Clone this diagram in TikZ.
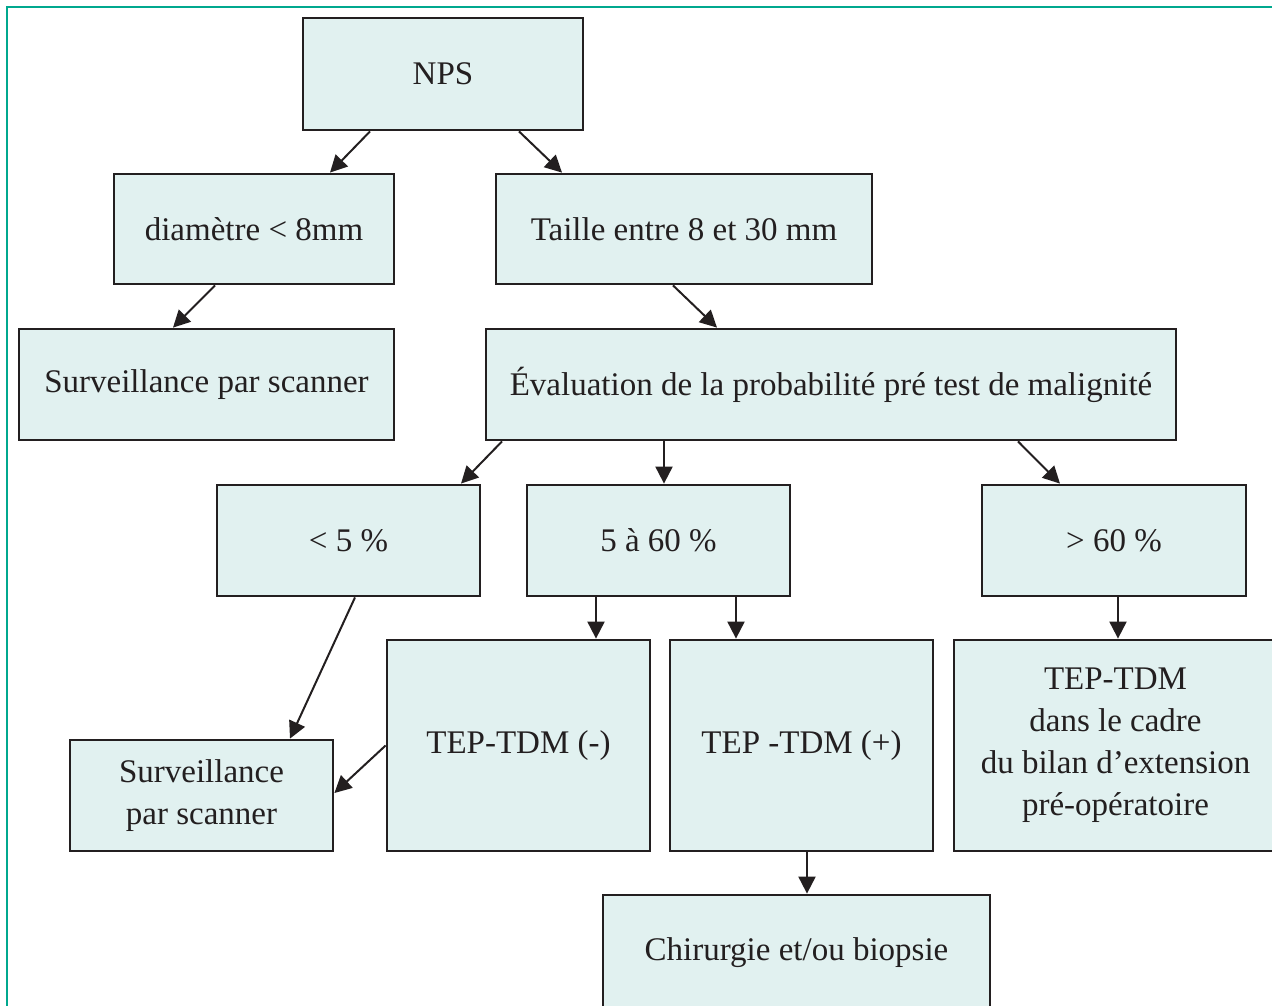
\documentclass[tikz,border=0pt]{standalone}
\usepackage{fontspec}
\setmainfont{Liberation Serif}
\usetikzlibrary{arrows.meta}
\definecolor{frame}{HTML}{00A88E}
\definecolor{boxfill}{HTML}{E1F1F0}
\definecolor{ink}{HTML}{231F20}
\tikzset{
  box/.style={draw=ink, fill=boxfill, line width=2.8pt, text=ink, align=center,
    inner sep=0pt, font=\fontsize{33}{42}\selectfont},
  conn/.style={draw=ink, line width=2pt, -{Triangle[length=17pt,width=17pt]}}
}
\begin{document}
\begin{tikzpicture}[x=1pt,y=-1pt]
\useasboundingbox (0,0) rectangle (1272,1005);
\clip (0,0) rectangle (1272,1005);
\draw[frame, line width=2.8pt] (7,1010) -- (7,7) -- (1280,7);
\node[box, minimum width=280pt, minimum height=112pt] (nps) at (443,74) {NPS};
\node[box, minimum width=280pt, minimum height=110pt] (diam) at (254,229) {diamètre < 8mm};
\node[box, minimum width=376pt, minimum height=110pt] (taille) at (684,229) {Taille entre 8 et 30 mm};
\node[box, minimum width=375pt, minimum height=111pt] (surv1) at (206.5,384.5) {Surveillance par scanner};
\node[box, minimum width=690pt, minimum height=111pt] (eval) at (831,384.5) {Évaluation de la probabilité pré test de malignité};
\node[box, minimum width=263pt, minimum height=111pt] (lt5) at (348.5,540.5) {< 5 \%};
\node[box, minimum width=263pt, minimum height=111pt] (mid) at (658.5,540.5) {5 à 60 \%};
\node[box, minimum width=264pt, minimum height=111pt] (gt60) at (1114,540.5) {> 60 \%};
\node[box, minimum width=263pt, minimum height=211pt] (tepm) at (518.5,745.5) {TEP-TDM (-)};
\node[box, minimum width=263pt, minimum height=211pt] (tepp) at (801.5,745.5) {TEP -TDM (+)};
\node[box, minimum width=323pt, minimum height=211pt] (big) at (1115.5,745.5) {\raisebox{-3pt}{\parbox{320pt}{\centering TEP-TDM\\dans le cadre\\du bilan d’extension\\pré-opératoire}}};
\node[box, minimum width=263pt, minimum height=111pt] (surv2) at (201.5,795.5) {Surveillance\\par scanner};
\node[box, minimum width=387pt, minimum height=116pt] (chir) at (796.5,953) {\raisebox{3pt}{Chirurgie et/ou biopsie}};
\draw[conn] ([xshift=-73pt]nps.south) -- ([xshift=76pt]diam.north);
\draw[conn] ([xshift=76pt]nps.south) -- ([xshift=-122pt]taille.north);
\draw[conn] ([xshift=-39pt]diam.south) -- ([xshift=-33.5pt]surv1.north);
\draw[conn] ([xshift=-11pt]taille.south) -- ([xshift=-114pt]eval.north);
\draw[conn] ([xshift=-329pt]eval.south) -- ([xshift=112.5pt]lt5.north);
\draw[conn] ([xshift=-167pt]eval.south) -- ([xshift=5.5pt]mid.north);
\draw[conn] ([xshift=187pt]eval.south) -- ([xshift=-54pt]gt60.north);
\draw[conn] ([xshift=-62.5pt]mid.south) -- ([xshift=77.5pt]tepm.north);
\draw[conn] ([xshift=77.5pt]mid.south) -- ([xshift=-65.5pt]tepp.north);
\draw[conn] ([xshift=4pt]gt60.south) -- ([xshift=2.5pt]big.north);
\draw[conn] ([xshift=6.5pt]lt5.south) -- ([xshift=88.5pt]surv2.north);
\draw[conn] (tepm.west) -- ([yshift=2.5pt]surv2.east);
\draw[conn] ([xshift=5.5pt]tepp.south) -- ([xshift=10.5pt]chir.north);
\end{tikzpicture}
\end{document}
